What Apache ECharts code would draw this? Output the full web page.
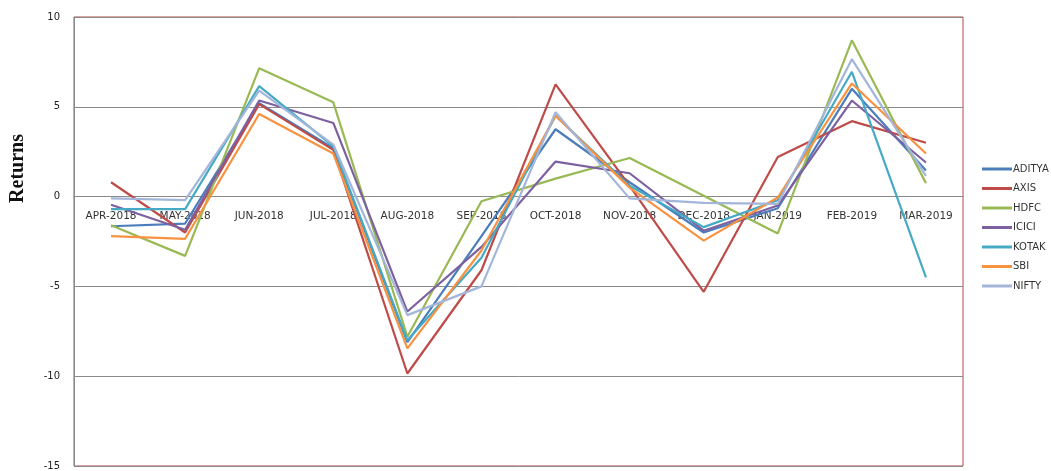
<!DOCTYPE html>
<html>
<head>
<meta charset="utf-8">
<script src="https://cdn.jsdelivr.net/npm/echarts@6/dist/echarts.min.js"></script>
<style>html,body{margin:0;padding:0;background:#fff;}#c{width:1051px;height:471px;}</style>
</head>
<body>
<div id="c"></div>
<script>
const categories = ['APR-2018','MAY-2018','JUN-2018','JUL-2018','AUG-2018','SEP-2018','OCT-2018','NOV-2018','DEC-2018','JAN-2019','FEB-2019','MAR-2019'];
const ADITYA = [-1.65, -1.5, 5.2, 2.7, -8.1, -2.2, 3.75, 0.8, -2.0, -0.65, 6.0, 1.45];
const AXIS   = [0.8, -2.0, 5.15, 2.6, -9.85, -4.1, 6.25, 0.6, -5.3, 2.2, 4.2, 3.0];
const HDFC   = [-1.6, -3.3, 7.15, 5.25, -7.8, -0.26, 1.0, 2.15, 0.05, -2.05, 8.7, 0.75];
const ICICI  = [-0.45, -1.85, 5.35, 4.1, -6.4, -2.8, 1.95, 1.3, -1.9, -0.5, 5.35, 1.9];
const KOTAK  = [-0.7, -0.7, 6.15, 2.8, -8.0, -3.4, 4.5, 0.6, -1.7, -0.2, 6.95, -4.5];
const SBI    = [-2.2, -2.35, 4.6, 2.4, -8.45, -3.0, 4.5, 0.5, -2.45, -0.05, 6.3, 2.4];
const NIFTY  = [-0.1, -0.2, 5.9, 2.9, -6.6, -5.0, 4.7, -0.1, -0.35, -0.4, 7.65, 1.15];
const yTicks = [-15, -10, -5, 0, 5, 10];

const seriesDefs = [
  ['ADITYA', ADITYA, '#4A7EBB'],
  ['AXIS', AXIS, '#BE4B48'],
  ['HDFC', HDFC, '#98B954'],
  ['ICICI', ICICI, '#7D60A0'],
  ['KOTAK', KOTAK, '#46AAC5'],
  ['SBI', SBI, '#F69240'],
  ['NIFTY', NIFTY, '#A3B6DA']
];

const gridTop = 17, gridBottomPx = 466;
const yMin = yTicks[0], yMax = yTicks[yTicks.length - 1];
// x axis sits on the zero line of the value axis
const zeroOffset = -((gridBottomPx - gridTop) * (0 - yMin) / (yMax - yMin));

const chart = echarts.init(document.getElementById('c'), null, {renderer: 'canvas'});
chart.setOption({
  animation: false,
  backgroundColor: '#fff',
  grid: {left: 74, right: 88, top: gridTop, bottom: 471 - gridBottomPx, show: true, borderColor: '#B04A46', borderWidth: 1, backgroundColor: 'transparent', containLabel: false, outerBoundsMode: 'none'},
  legend: {
    orient: 'vertical', left: 977, top: 159, itemGap: 9.5,
    itemWidth: 30, itemHeight: 3, icon: 'rect',
    textStyle: {fontFamily: 'DejaVu Sans', fontSize: 10, color: '#333', padding: [0,0,0,-4]},
    data: seriesDefs.map(d => d[0])
  },
  graphic: [{
    type: 'text', left: 8, top: 134, rotation: Math.PI / 2,
    style: {text: 'Returns', font: 'bold 20px "Liberation Serif"', fill: '#111'}
  }],
  xAxis: {
    type: 'category', data: categories, boundaryGap: true,
    offset: zeroOffset,
    axisLine: {show: true, onZero: false, lineStyle: {color: '#8A8A8A'}},
    axisTick: {show: false},
    axisLabel: {fontFamily: 'DejaVu Sans', fontSize: 10.5, color: '#333', margin: 14, interval: 0}
  },
  yAxis: {
    type: 'value', min: yMin, max: yMax, interval: 5,
    axisLine: {show: true, lineStyle: {color: '#8A8A8A'}},
    axisTick: {show: false},
    splitLine: {show: true, lineStyle: {color: '#8A8A8A', width: 1}},
    axisLabel: {fontFamily: 'DejaVu Sans', fontSize: 10, color: '#222', margin: 14}
  },
  series: seriesDefs.map(d => ({
    name: d[0], type: 'line', data: d[1], symbol: 'none',
    lineStyle: {color: d[2], width: 2.2}, itemStyle: {color: d[2]}
  }))
});
</script>
</body>
</html>
